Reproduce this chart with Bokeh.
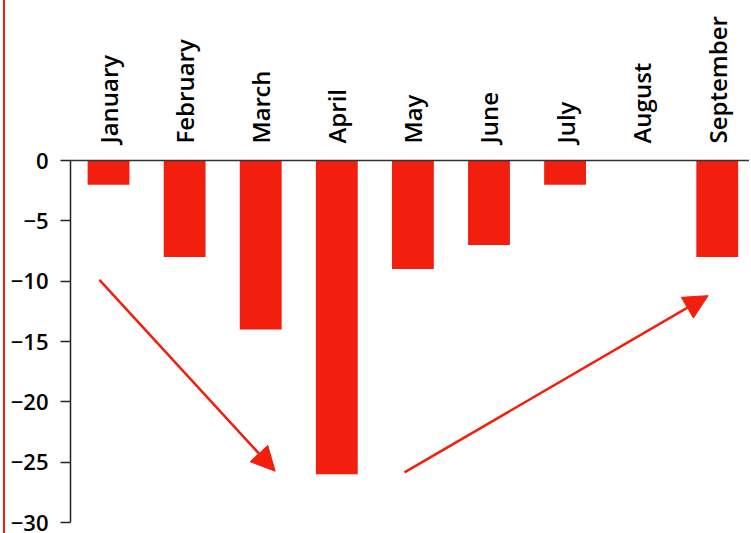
import math
from bokeh.plotting import figure
from bokeh.models import Arrow, NormalHead, FixedTicker, Range1d
from bokeh.embed import file_html
from bokeh.resources import INLINE

# Monthly change values
months = ["January", "February", "March", "April", "May", "June", "July", "August", "September"]
changes = [-2, -8, -14, -26, -9, -7, -2, 0, -8]
y_ticks = [0, -5, -10, -15, -20, -25, -30]

# Trend arrows (x in month index, y in value units): (x_start, y_start, x_end, y_end)
trend_arrows = [
    (-0.12, -9.9, 2.19, -25.75),
    (3.89, -25.85, 7.88, -11.2),
]

RED = "#f21e0e"
FONT = "'Open Sans SemiBold', 'Open Sans'"

xs = list(range(len(months)))

p = figure(
    width=746,
    height=533,
    x_range=Range1d(-0.5, 8.45),
    y_range=Range1d(-30, 0),
    x_axis_location="above",
    output_backend="svg",
    toolbar_location=None,
    min_border_top=160,
    min_border_left=65,
    min_border_right=0,
    min_border_bottom=11,
)
p.outline_line_color = None
p.xgrid.visible = False
p.ygrid.visible = False
p.background_fill_color = "white"
p.border_fill_color = "white"
# thin red rule down the left edge of the page
p.styles = {"margin-left": "3px", "border-left": "2px solid rgb(242, 30, 14)"}

p.vbar(x=xs, top=0, bottom=changes, width=0.55, color=RED, line_color=None)

for xs0, ys0, xe, ye in trend_arrows:
    p.add_layout(Arrow(
        x_start=xs0, y_start=ys0, x_end=xe, y_end=ye,
        line_color=RED, line_width=2.5,
        end=NormalHead(size=24, fill_color=RED, line_color=RED, line_width=1),
    ))

# Month labels on the top axis, written upright
xa = p.xaxis[0]
xa.ticker = FixedTicker(ticks=xs)
xa.major_label_overrides = {i: m for i, m in enumerate(months)}
xa.major_label_orientation = math.pi / 2
xa.major_label_text_font = FONT
xa.major_label_text_font_size = "24px"
xa.major_label_text_color = "black"
xa.major_label_standoff = 11
xa.major_tick_line_color = None
xa.minor_tick_line_color = None
xa.axis_line_color = "#333333"
xa.axis_line_width = 1.5

ya = p.yaxis[0]
ya.ticker = FixedTicker(ticks=y_ticks)
ya.major_label_text_font = FONT
ya.major_label_text_font_size = "22px"
ya.major_label_text_color = "black"
ya.major_label_standoff = 12
ya.major_tick_out = 10
ya.major_tick_in = 0
ya.major_tick_line_color = "#222222"
ya.major_tick_line_width = 1.5
ya.minor_tick_line_color = None
ya.axis_line_color = "#222222"
ya.axis_line_width = 1.5

open("out.html", "w").write(file_html(p, INLINE))
